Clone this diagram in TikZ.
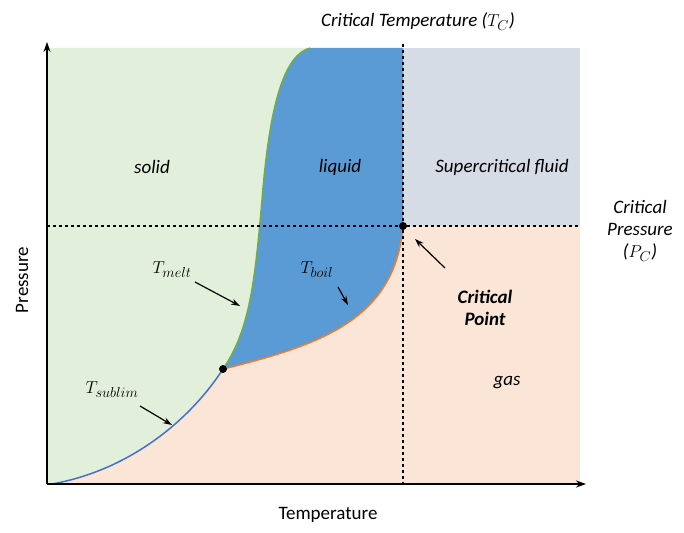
\documentclass[tikz,border=0pt]{standalone}
\usepackage{fontspec}
\setmainfont{Carlito}
\usetikzlibrary{arrows.meta}
\definecolor{solidc}{HTML}{E2EFDA}
\definecolor{liqc}{HTML}{5B9BD5}
\definecolor{supc}{HTML}{D6DCE5}
\definecolor{gasc}{HTML}{FBE5D6}
\definecolor{meltc}{HTML}{70AD47}
\definecolor{boilc}{HTML}{ED7D31}
\definecolor{subc}{HTML}{4472C4}
\begin{document}
\begin{tikzpicture}[x=1pt,y=-1pt,
  lbl/.style={font=\fontsize{19}{22}\selectfont\itshape},
  pt/.style={circle,fill=black,inner sep=0pt,minimum size=8pt},
  ptr/.style={-{Stealth[length=9pt,width=6pt]},line width=1.2pt}]
\useasboundingbox (0,0) rectangle (684,532);
\fill[gasc] (47,48) rectangle (580,484);
\fill[supc] (403,48) rectangle (580,226);
\fill[solidc] (47,48) -- (310,48) .. controls (285,55) and (270,100) .. (262,200)
  .. controls (255,280) and (250,330) .. (223,369)
  .. controls (190,420) and (130,470) .. (52,484) -- (47,484) -- cycle;
\fill[liqc] (223,369) .. controls (250,330) and (255,280) .. (262,200)
  .. controls (270,100) and (285,55) .. (310,48) -- (403,48) -- (403,226)
  .. controls (395,320) and (320,345) .. (223,369) -- cycle;
\draw[meltc,line width=1.5pt] (223,369) .. controls (250,330) and (255,280) .. (262,200)
  .. controls (270,100) and (285,55) .. (310,48);
\draw[boilc,line width=1.5pt] (223,369) .. controls (320,345) and (395,320) .. (403,226);
\draw[subc,line width=1.5pt] (52,484) .. controls (130,470) and (190,420) .. (223,369);
\draw[dashed,line width=1.2pt] (47,226) -- (580,226);
\draw[dashed,line width=1.2pt] (403,44) -- (403,484);
\coordinate (o) at (47,484);
\coordinate (ytop) at (47,42);
\coordinate (xend) at (586,484);
\draw[-{Stealth[length=10pt,width=7pt]},line width=1.2pt] (o) -- (ytop);
\draw[-{Stealth[length=10pt,width=7pt]},line width=1.2pt] (o) -- (xend);
\node[pt] (tp) at (223,369) {};
\node[pt] (cp) at (403,226) {};
\node[lbl] (solid) at (152,167) {solid};
\node[lbl] (liquid) at (340,167) {liquid};
\node[lbl] (sup) at (502,167) {Supercritical fluid};
\node[lbl] (gas) at (507,383) {gas};
\node[lbl] (ctemp) at (418,22) {Critical Temperature ($T_C$)};
\node[lbl,align=center] (cpres) at (640,231) {Critical\\Pressure\\($P_C$)};
\node[font=\fontsize{19}{22}\selectfont\bfseries\itshape,align=center] (cpt) at (485,308) {Critical\\Point};
\node[lbl] (tmelt) at (172,270) {$T_{melt}$};
\node[lbl] (tboil) at (317,270) {$T_{boil}$};
\node[lbl] (tsub) at (112,390) {$T_{sublim}$};
\coordinate (am) at (240,306);
\coordinate (ab) at (348,305);
\coordinate (as) at (172,425);
\coordinate (ac) at (415,239);
\draw[ptr] (195,282) -- (am);
\draw[ptr] (338,287) -- (ab);
\draw[ptr] (140,406) -- (as);
\draw[ptr] (445,268) -- (ac);
\node[font=\fontsize{19}{22}\selectfont,rotate=90] (pres) at (22,280) {Pressure};
\node[font=\fontsize{19}{22}\selectfont] (temp) at (328,515) {Temperature};
\end{tikzpicture}
\end{document}
